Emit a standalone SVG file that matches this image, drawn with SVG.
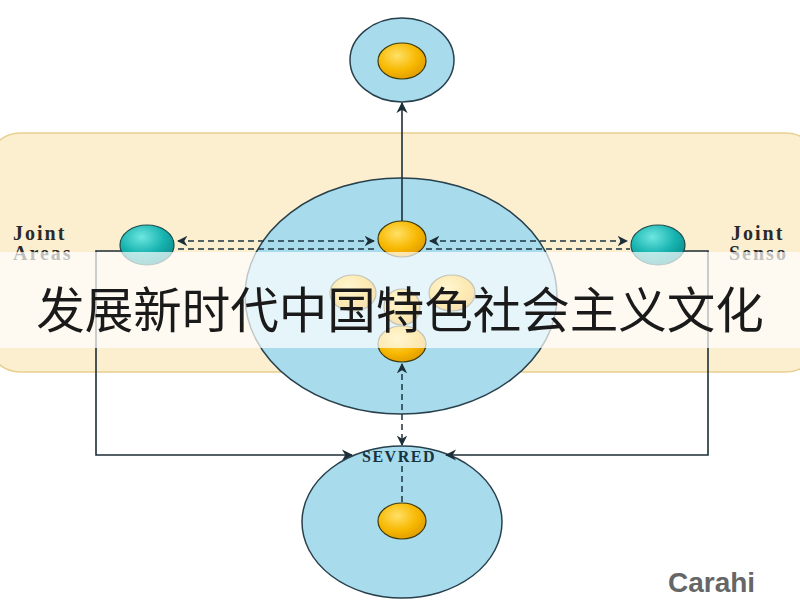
<svg xmlns="http://www.w3.org/2000/svg" width="800" height="600" viewBox="0 0 800 600">
<defs>
<radialGradient id="gold" cx="0.4" cy="0.35" r="0.7">
<stop offset="0" stop-color="#ffe066"/><stop offset="0.6" stop-color="#f7b800"/><stop offset="1" stop-color="#e09a00"/>
</radialGradient>
<radialGradient id="teal" cx="0.4" cy="0.3" r="0.7">
<stop offset="0" stop-color="#6ee6e0"/><stop offset="0.6" stop-color="#17b3b0"/><stop offset="1" stop-color="#0c8f8e"/>
</radialGradient>
<marker id="ah" viewBox="0 0 10 10" refX="9" refY="5" markerWidth="7" markerHeight="7" orient="auto-start-reverse">
<path d="M0,0 L10,5 L0,10 L3,5 z" fill="#1c2e38"/>
</marker>
<style>
.blue{fill:#a8dcec;stroke:#28404c;stroke-width:1.5}
.g{fill:url(#gold);stroke:#3a3a10;stroke-width:1.2}
.t{fill:url(#teal);stroke:#1d4a4a;stroke-width:1.2}
.ln{fill:none;stroke:#1c2e38;stroke-width:1.6}
.dash{fill:none;stroke:#1c3440;stroke-width:1.5;stroke-dasharray:6 4}
.lab{font-family:"Liberation Serif","DejaVu Serif",serif;font-weight:bold;font-size:20px;letter-spacing:2px;fill:#2a2a2a}
</style>
</defs>
<rect width="800" height="600" fill="#ffffff"/>
<rect id="band" x="-12" y="133" width="830" height="239" rx="32" fill="#fcefd0" stroke="#e8cf8e" stroke-width="1.5"/>
<g id="top-node"><ellipse class="blue" cx="402" cy="60" rx="52" ry="42"/><ellipse class="g" cx="402" cy="61" rx="24" ry="18"/></g>
<g id="hub"><ellipse class="blue" cx="401" cy="296" rx="156" ry="118"/></g>
<g id="bottom-node"><ellipse class="blue" cx="402" cy="522" rx="100" ry="76"/><ellipse class="g" cx="402" cy="521" rx="24" ry="18"/></g>
<g id="connectors">
<line class="ln" x1="402" y1="222" x2="402" y2="103" marker-end="url(#ah)"/>
<line class="dash" x1="178" y1="241" x2="374" y2="241" marker-start="url(#ah)" marker-end="url(#ah)"/>
<line class="dash" x1="178" y1="249" x2="378" y2="249"/>
<line class="dash" x1="430" y1="241" x2="627" y2="241" marker-start="url(#ah)" marker-end="url(#ah)"/>
<line class="dash" x1="426" y1="249" x2="630" y2="249"/>
<polyline class="ln" points="121,251 96,251 96,455 352,455" marker-end="url(#ah)"/>
<polyline class="ln" points="684,251 708,251 708,455 446,455" marker-end="url(#ah)"/>
<line class="dash" x1="402" y1="364" x2="402" y2="445" marker-start="url(#ah)" marker-end="url(#ah)"/>
<line class="dash" x1="402" y1="466" x2="402" y2="502"/>
</g>
<g id="hub-top"><ellipse class="g" cx="402" cy="239" rx="24" ry="18"/></g>
<g id="hub-left"><ellipse class="g" cx="353" cy="293" rx="23" ry="18"/></g>
<g id="hub-right"><ellipse class="g" cx="452" cy="293" rx="23" ry="18"/></g>
<g id="hub-mid"><ellipse class="g" cx="402" cy="307" rx="18" ry="18"/></g>
<g id="hub-bottom"><ellipse class="g" cx="402" cy="344" rx="24" ry="18"/></g>
<g id="left-node"><ellipse class="t" cx="147" cy="245" rx="27" ry="20"/></g>
<g id="right-node"><ellipse class="t" cx="658" cy="245" rx="27" ry="20"/></g>
<text class="lab" x="13" y="240">Joint</text>
<text class="lab" x="13" y="260">Areas</text>
<text class="lab" x="731" y="240">Joint</text>
<text class="lab" x="729" y="260">Senso</text>
<text x="399" y="462" text-anchor="middle" font-family="Liberation Serif,DejaVu Serif,serif" font-weight="bold" font-size="16" letter-spacing="1.5" fill="#18333f">SEVRED</text>
<text x="668" y="592" font-family="Liberation Sans,Arial,sans-serif" font-weight="bold" font-size="28" fill="#666">Carahi</text>
<rect x="0" y="252" width="800" height="96" fill="#ffffff" fill-opacity="0.7"/>
<text x="400" y="328" text-anchor="middle" font-family="Noto Sans CJK SC,sans-serif" font-size="48.5" fill="#1a1a1a">发展新时代中国特色社会主义文化</text>
</svg>
